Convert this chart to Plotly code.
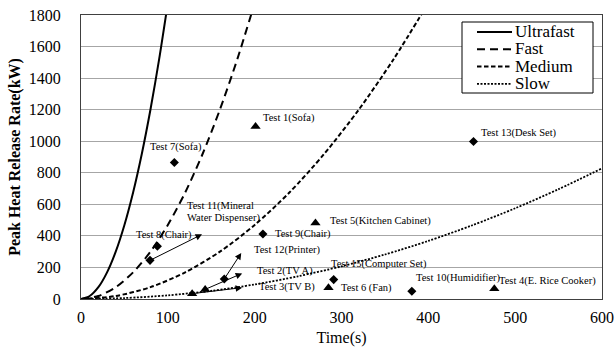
import plotly.graph_objects as go

# ---------------- data ----------------
series_names = ["Ultrafast", "Fast", "Medium", "Slow"]

ultrafast_t = [0, 10, 20, 30, 40, 50, 60, 70, 80, 90, 100]
ultrafast_q = [0, 19, 75, 169, 300, 469, 675, 919, 1201, 1520, 1876]

fast_t = [0, 20, 40, 60, 80, 100, 120, 140, 160, 180, 200]
fast_q = [0, 19, 75, 169, 300, 469, 675, 919, 1201, 1520, 1876]

medium_t = [0, 40, 80, 120, 160, 200, 240, 280, 320, 360, 400]
medium_q = [0, 19, 75, 169, 300, 469, 675, 919, 1201, 1520, 1876]

slow_t = [0, 50, 100, 150, 200, 250, 300, 350, 400, 450, 500, 550, 600]
slow_q = [0, 6, 23, 52, 92, 144, 207, 282, 368, 466, 575, 696, 828]

# tests shown with triangles (Tests 1-6)
tri_names = ["Test 1(Sofa)", "Test 2(TV A)", "Test 3(TV B)",
             "Test 4(E. Rice Cooker)", "Test 5(Kitchen Cabinet)", "Test 6 (Fan)"]
tri_time = [201, 143, 128, 476, 270, 285]
tri_hrr = [1093, 61, 34, 65, 482, 72]

# tests shown with diamonds (Tests 7-15)
dia_names = ["Test 7(Sofa)", "Test 8(Chair)", "Test 9(Chair)", "Test 10(Humidifier)",
             "Test 11(Mineral Water Dispenser)", "Test 12(Printer)",
             "Test 13(Desk Set)", "Test 15(Computer Set)"]
dia_time = [107.5, 88, 209.5, 381, 79.5, 165, 452, 291]
dia_hrr = [865, 334, 412, 49, 245, 127, 998, 123]

x_ticks = [0, 100, 200, 300, 400, 500, 600]
y_ticks = [0, 200, 400, 600, 800, 1000, 1200, 1400, 1600, 1800]

# ---------------- layout / style ----------------
FONT = "Liberation Serif"
W, H = 616, 356
ML, MR, MT, MB = 81, 14, 15, 57
PW, PH = W - ML - MR, H - MT - MB
XR, YR = (0, 600), (0, 1800)
T_PER_PX = (XR[1] - XR[0]) / PW
Q_PER_PX = (YR[1] - YR[0]) / PH

# label offsets (screen px, label left-middle relative to marker; +dy = down)
label_off = {
    "Test 1(Sofa)": (5, -9), "Test 2(TV A)": (50, -18), "Test 3(TV B)": (65, -7),
    "Test 4(E. Rice Cooker)": (3, -8), "Test 5(Kitchen Cabinet)": (13, -2),
    "Test 6 (Fan)": (11, 0), "Test 7(Sofa)": (-26, -16), "Test 8(Chair)": (-23, -11),
    "Test 9(Chair)": (10, 0), "Test 10(Humidifier)": (2, -13),
    "Test 11(Mineral Water Dispenser)": (35, -48), "Test 12(Printer)": (28, -29),
    "Test 13(Desk Set)": (6, -9), "Test 15(Computer Set)": (-5, -16),
}
label_lines = {"Test 11(Mineral Water Dispenser)": ["Test 11(Mineral", "Water Dispenser)"]}
# leader arrows (screen px, arrow head relative to marker)
arrow_off = {
    "Test 2(TV A)": (37, -16), "Test 3(TV B)": (50, -6),
    "Test 11(Mineral Water Dispenser)": (52, -26), "Test 12(Printer)": (17, -26),
}

dashes = {"Ultrafast": "solid", "Fast": "8px,5px", "Medium": "4.5px,2.5px", "Slow": "2px,1.5px"}
widths = {"Ultrafast": 2, "Fast": 2, "Medium": 2, "Slow": 1.8}

LABEL_SIZE = 10.5


def tight_lines(lines, size, line_px):
    # multi-line text whose line pitch (1.3 * base size) equals line_px
    base = line_px / 1.3
    body = "<br>".join('<span style="font-size:%gpx">%s</span>' % (size, s) for s in lines)
    return body, base


fig = go.Figure()
curves = [(ultrafast_t, ultrafast_q), (fast_t, fast_q), (medium_t, medium_q), (slow_t, slow_q)]
for name, (t, q) in zip(series_names, curves):
    fig.add_trace(go.Scatter(x=t, y=q, name=name, mode="lines",
                             line=dict(color="black", width=widths[name], dash=dashes[name],
                                       shape="spline", smoothing=0.8),
                             showlegend=False, hoverinfo="skip"))

fig.add_trace(go.Scatter(x=tri_time, y=tri_hrr, mode="markers", name="Tests 1-6",
                         marker=dict(symbol="triangle-up", size=9, color="black"),
                         text=tri_names, showlegend=False, cliponaxis=False))
fig.add_trace(go.Scatter(x=dia_time, y=dia_hrr, mode="markers", name="Tests 7-15",
                         marker=dict(symbol="diamond", size=7, color="black"),
                         text=dia_names, showlegend=False, cliponaxis=False))

annotations = []
for names, ts, qs in [(tri_names, tri_time, tri_hrr), (dia_names, dia_time, dia_hrr)]:
    for n, t, q in zip(names, ts, qs):
        dx, dy = label_off[n]
        if n in label_lines:
            txt, fsize = tight_lines(label_lines[n], LABEL_SIZE, 11.5)
        else:
            txt, fsize = n, LABEL_SIZE
        annotations.append(dict(x=t, y=q, xref="x", yref="y", text=txt,
                                showarrow=False, xanchor="left", yanchor="middle",
                                align="left", xshift=dx, yshift=-dy,
                                font=dict(family=FONT, size=fsize, color="black")))
        if n in arrow_off:
            adx, ady = arrow_off[n]
            annotations.append(dict(x=t + adx * T_PER_PX, y=q - ady * Q_PER_PX,
                                    xref="x", yref="y", ax=-adx, ay=-ady, text="",
                                    showarrow=True, arrowhead=2, arrowsize=1.3,
                                    arrowwidth=1, arrowcolor="black", standoff=0))


# custom legend (Excel-like compact box)
def px_x(px):
    return (px - ML) / PW


def px_y(py):
    return (MT + PH - py) / PH


shapes = [dict(type="rect", xref="paper", yref="paper",
               x0=px_x(462), x1=px_x(593), y0=px_y(93), y1=px_y(22),
               line=dict(color="black", width=1), fillcolor="white", layer="above")]
row_y = [32, 49.3, 66.6, 83.9]
for name, ry in zip(series_names, row_y):
    shapes.append(dict(type="line", xref="paper", yref="paper",
                       x0=px_x(477), x1=px_x(512), y0=px_y(ry), y1=px_y(ry),
                       line=dict(color="black", width=widths[name], dash=dashes[name]),
                       layer="above"))
leg_txt, leg_base = tight_lines(series_names, 17, 17.3)
annotations.append(dict(x=px_x(513), y=px_y((row_y[0] + row_y[-1]) / 2), xref="paper",
                        yref="paper", text=leg_txt, showarrow=False, xanchor="left",
                        yanchor="middle", align="left",
                        font=dict(family=FONT, size=leg_base, color="black")))

fig.update_layout(
    width=W, height=H, margin=dict(l=ML, r=MR, t=MT, b=MB, autoexpand=False),
    paper_bgcolor="white", plot_bgcolor="white",
    font=dict(family=FONT, color="black"),
    shapes=shapes, annotations=annotations,
    xaxis=dict(range=list(XR), tickvals=x_ticks, showgrid=False, zeroline=False,
               showline=True, linecolor="#404040", linewidth=1, mirror=True, automargin=False,
               ticks="", tickfont=dict(family=FONT, size=16), ticklabelstandoff=4,
               title=dict(text="Time(s)", font=dict(family=FONT, size=16), standoff=6)),
    yaxis=dict(range=list(YR), tickvals=y_ticks, showgrid=True, gridcolor="#a6a6a6",
               gridwidth=1, zeroline=False, showline=True, linecolor="#404040",
               linewidth=1, mirror=True, automargin=False, ticks="",
               tickfont=dict(family=FONT, size=16), ticklabelstandoff=16,
               title=dict(text="<b>Peak Heat Release Rate(kW)</b>",
                          font=dict(family=FONT, size=16), standoff=4)),
)

fig.write_html("out.html", config={"displayModeBar": False},
               post_script="document.body.style.margin='0px';document.body.style.padding='0px';")
